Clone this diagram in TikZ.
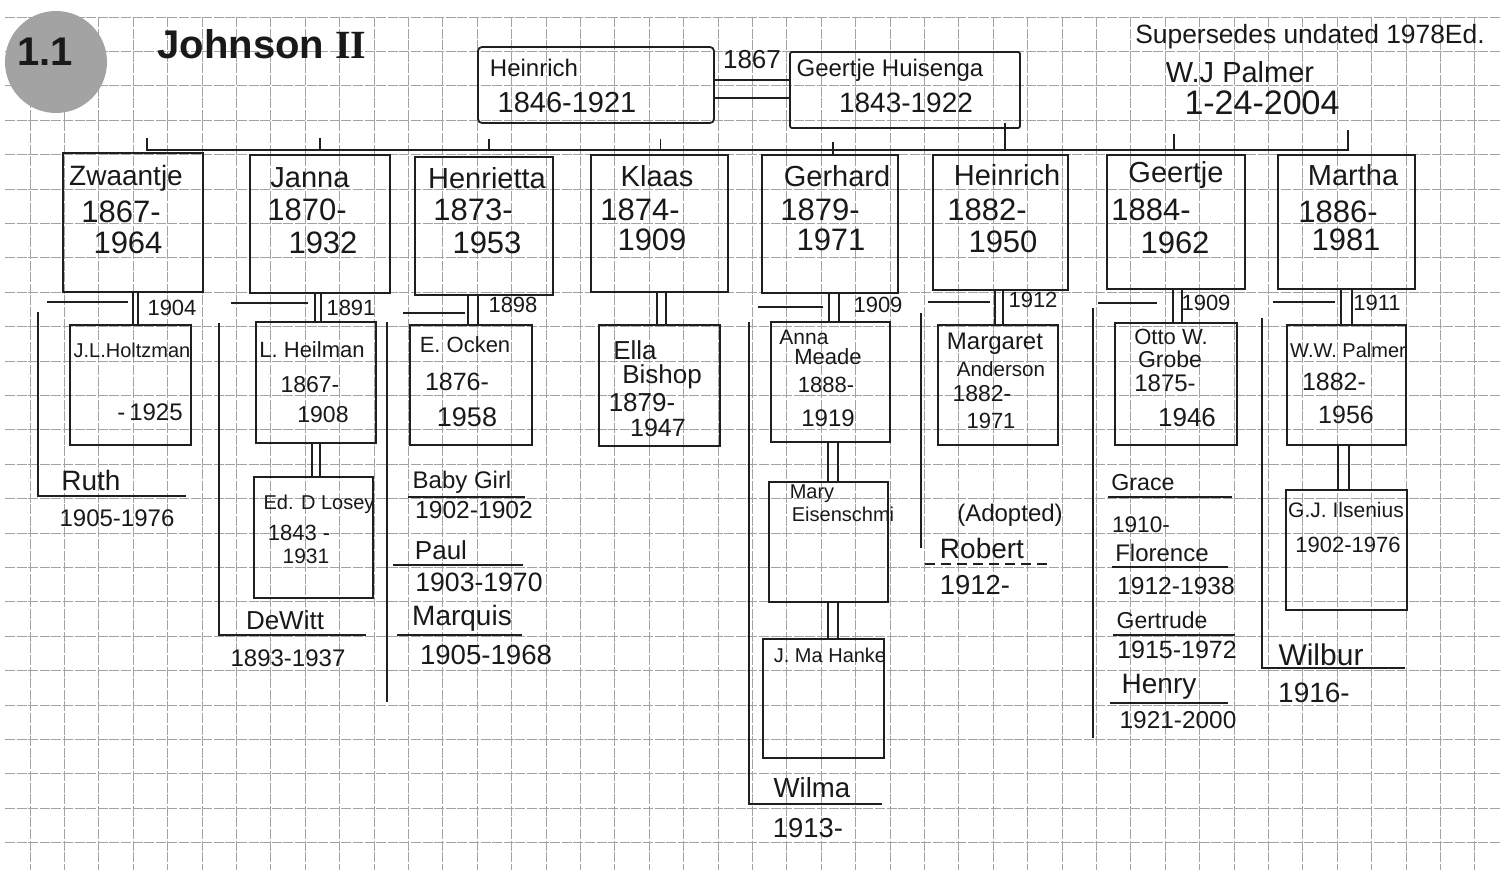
\documentclass[tikz,border=0pt]{standalone}
\usepackage{fontspec}
\setmainfont{Liberation Sans}
\newfontfamily\serifbf{Liberation Serif}
\usetikzlibrary{calc}
\newcommand{\boxat}[5]{\node[pbox, minimum width=#4*0.5pt, minimum height=#5*0.5pt] (#1) at (#2,#3) {};}
\newcommand{\txtat}[5]{\node[lbl, font=\fontsize{#4}{#4}\selectfont] (#1) at (#2,#3) {#5};}
\newcommand{\dblline}[4]{%
  \draw[ink] ($(#1.south)+(#3,0)$) coordinate (dA) -- (dA |- #2.north);
  \draw[ink] ($(#1.south)+(#4,0)$) coordinate (dB) -- (dB |- #2.north);}
\begin{document}
\begin{tikzpicture}[x=0.5pt,y=-0.5pt,
  grid/.style={draw=black!36, line width=0.45pt, dash pattern=on 5pt off 0.8pt},
  ink/.style={draw=black!88, line width=0.9pt},
  pbox/.style={ink, rectangle, inner sep=0},
  lbl/.style={inner sep=0, text=black!90}]
\useasboundingbox (0,0) rectangle (1500,870);
\fill[white] (0,0) rectangle (1500,870);
% graph paper
\foreach \i in {0,...,24} \draw[grid] (5,{17+34.4*\i}) -- (1500,{17+34.4*\i});
\foreach \i in {0,...,42} \draw[grid] ({30+34.4*\i},17) -- ({30+34.4*\i},870);

% header
\node[circle, fill=black!36, minimum size=51pt, inner sep=0] (badge) at (56,62) {};
\node[lbl, font=\fontsize{20}{20}\selectfont\bfseries] (num) at (45,52) {1.1};
\node[lbl, font=\fontsize{20}{20}\selectfont\bfseries] (title) at (262,44) {Johnson {\serifbf\bfseries II}};
\txtat{sup}{1310}{37}{13.2}{Supersedes undated 1978Ed.}
\txtat{auth}{1240}{72}{14.5}{W.J Palmer}
\txtat{date}{1262}{103}{17}{1-24-2004}

% parents
\node[pbox, rounded corners=2pt, minimum width=118pt, minimum height=38pt] (h0) at (596,85) {};
\node[pbox, rounded corners=1pt, minimum width=115pt, minimum height=38pt] (g0) at (905,90) {};
\txtat{h0n}{534}{68}{12}{Heinrich}
\txtat{h0y}{567}{103}{14.5}{1846-1921}
\txtat{g0n}{890}{70}{12}{Geertje Huisenga}
\txtat{g0y}{906}{103}{14}{1843-1922}
\txtat{m0}{752}{60}{13}{1867}
\draw[ink] ($(h0.east)+(0,-5)$) -- ($(g0.west)+(0,-10)$);
\draw[ink] ($(h0.east)+(0,13)$) -- ($(g0.west)+(0,8)$);

% children
\boxat{c1}{133}{222.5}{140}{139}
\boxat{c2}{320}{224}{140}{138}
\boxat{c3}{484}{226}{138}{138}
\boxat{c4}{659.5}{223.5}{137}{137}
\boxat{c5}{830}{224}{136}{138}
\boxat{c6}{1000.5}{222.5}{135}{135}
\boxat{c7}{1176}{222}{138}{134}
\boxat{c8}{1346.5}{222}{137}{134}

\txtat{c1n}{126}{178}{14}{Zwaantje}
\txtat{c1a}{121}{212}{15.5}{1867-}
\txtat{c1b}{128}{243}{15.5}{1964}
\txtat{c2n}{310}{178}{14.5}{Janna}
\txtat{c2a}{307}{210}{15.5}{1870-}
\txtat{c2b}{323}{243}{15.5}{1932}
\txtat{c3n}{487}{178}{14.5}{Henrietta}
\txtat{c3a}{473}{210}{15.5}{1873-}
\txtat{c3b}{487}{243}{15.5}{1953}
\txtat{c4n}{657}{176}{14.5}{Klaas}
\txtat{c4a}{640}{210}{15.5}{1874-}
\txtat{c4b}{652}{240}{15.5}{1909}
\txtat{c5n}{837}{176}{14.5}{Gerhard}
\txtat{c5a}{820}{210}{15.5}{1879-}
\txtat{c5b}{831}{240}{15.5}{1971}
\txtat{c6n}{1007}{175}{14.5}{Heinrich}
\txtat{c6a}{987}{210}{15.5}{1882-}
\txtat{c6b}{1003}{242}{15.5}{1950}
\txtat{c7n}{1176}{175}{14.5}{Geertje}
\txtat{c7a}{1151}{210}{15.5}{1884-}
\txtat{c7b}{1175}{243}{15.5}{1962}
\txtat{c8n}{1353}{175}{14.5}{Martha}
\txtat{c8a}{1338}{212}{15.5}{1886-}
\txtat{c8b}{1346}{240}{15.5}{1981}

% sibling bus
\coordinate (bus) at (0,150);
\coordinate (tk) at (0,138);
\coordinate (busL) at (147,150);
\coordinate (busR) at (1348,150);
\draw[ink] (busL |- tk) -- (busL) -- (busR) -- ($(busR)+(0,-20)$);
\draw[ink] (c2.north |- tk) -- (c2.north |- bus);
\draw[ink] ($(c3.north)+(5,0)$) coordinate (t3) ++(0,-17) -- (t3 |- bus);
\draw[ink] ($(c4.north)+(1,-15)$) -- ($(c4.north)+(1,-5)$);
\draw[ink] ($(c5.north)+(3,-12)$) -- ($(c5.north)+(3,2)$);
\draw[ink] ($(c7.north)+(-2,-20)$) -- ($(c7.north)+(-2,-5)$);
\draw[ink] ($(g0.south east)+(-16,-6)$) coordinate (pd) -- (pd |- bus);

% spouses
\boxat{s1}{130.5}{385}{121}{120}
\boxat{s2}{316}{382.5}{120}{121}
\boxat{s2b}{313.5}{537.5}{119}{121}
\boxat{s3}{471}{385}{122}{120}
\boxat{s4}{659.5}{385.5}{121}{121}
\boxat{s5}{830.5}{382}{119}{120}
\boxat{s5b}{828.5}{542}{119}{120}
\boxat{s5c}{823.5}{698.5}{121}{119}
\boxat{s6}{998}{385}{120}{120}
\boxat{s7}{1176}{384}{122}{122}
\boxat{s8}{1346.5}{385}{119}{120}
\boxat{s8b}{1346.5}{550}{121}{120}

\dblline{c1}{s1}{0}{5}
\dblline{c2}{s2}{-5}{1}
\dblline{s2}{s2b}{-4}{4}
\dblline{c3}{s3}{-16}{-6}
\dblline{c4}{s4}{-2.5}{6.5}
\dblline{c5}{s5}{-1}{9}
\dblline{s5}{s5b}{-2.5}{7.5}
\dblline{s5b}{s5c}{-0.5}{9.5}
\dblline{c6}{s6}{-5.5}{2.5}
\dblline{c7}{s7}{-3}{6}
\dblline{c8}{s8}{-5.5}{5.5}
\dblline{s8}{s8b}{-8.5}{2.5}

\txtat{y1}{172}{308}{11}{1904}
\txtat{y2}{351}{308}{11}{1891}
\txtat{y3}{513}{305}{11}{1898}
\txtat{y5}{878}{305}{11}{1909}
\txtat{y6}{1033}{300}{11}{1912}
\txtat{y7}{1206}{303}{11}{1909}
\txtat{y8}{1377}{303}{11}{1911}

\txtat{s1n}{132}{350}{10}{J.L.Holtzman}
\txtat{s1b}{150}{412}{12}{-\,1925}
\txtat{s2n}{312}{350}{11}{L. Heilman}
\txtat{s2a}{310}{385}{11.5}{1867-}
\txtat{s2c}{323}{415}{11.5}{1908}
\txtat{s2bn}{319}{504}{10}{Ed. D Losey}
\txtat{s2ba}{299}{533}{11}{1843 -}
\txtat{s2bb}{306}{556}{10.5}{1931}
\txtat{s3n}{465}{345}{11}{E. Ocken}
\txtat{s3a}{457}{382}{12.5}{1876-}
\txtat{s3b}{467}{417}{13.5}{1958}
\txtat{s4n}{635}{350}{13}{Ella}
\txtat{s4m}{662}{377}{13}{Bishop}
\txtat{s4a}{642}{403}{13}{1879-}
\txtat{s4b}{658}{428}{12.5}{1947}
\txtat{s5n}{804}{337}{10.5}{Anna}
\txtat{s5m}{828}{357}{11}{Meade}
\txtat{s5a}{826}{385}{11}{1888-}
\txtat{s5c1}{828}{418}{12}{1919}
\txtat{s5bn}{812}{494}{10}{Mary}
\txtat{s5bm}{843}{514}{10}{Eisenschmi}
\txtat{s5cn}{830}{655}{10}{J. Ma Hanke}
\txtat{s6n}{995}{344}{12}{Margaret}
\txtat{s6m}{1001}{369}{10.3}{Anderson}
\txtat{s6a}{982}{394}{11.5}{1882-}
\txtat{s6b}{991}{421}{11}{1971}
\txtat{s7n}{1171}{337}{11}{Otto W.}
\txtat{s7m}{1170}{359}{11.5}{Grobe}
\txtat{s7a}{1165}{383}{12}{1875-}
\txtat{s7b}{1187}{418}{13}{1946}
\txtat{s8n}{1348}{350}{10}{W.W. Palmer}
\txtat{s8a}{1334}{382}{12.5}{1882-}
\txtat{s8c}{1346}{415}{12.5}{1956}
\txtat{s8bn}{1346}{510}{10.5}{G.J. Ilsenius}
\txtat{s8ba}{1348}{545}{11}{1902-1976}

% lines of descent
\draw[ink] (47,302) -- (128,302);
\draw[ink] (231,303) -- (308,303);
\draw[ink] (403,313) -- (465,313);
\draw[ink] (758,307) -- (823,307);
\draw[ink] (928,302) -- (990,302);
\draw[ink] (1098,303) -- (1157,303);
\draw[ink] (1273,302) -- (1335,302);

% grandchildren
\txtat{g1n}{91}{480}{14}{Ruth}
\txtat{g1y}{117}{518}{12}{1905-1976}
\coordinate (v1) at (38,312);
\draw[ink] (v1) |- ($(g1n.south east)+(65,5)$);

\txtat{g2n}{285}{620}{13}{DeWitt}
\txtat{g2y}{288}{658}{12}{1893-1937}
\coordinate (v2) at (219,323);
\draw[ink] (v2) |- ($(g2n.south east)+(42,5)$);

\coordinate (v3) at (387,322);
\draw[ink] (v3) -- (387,702);
\txtat{g3n}{462}{482}{12}{Baby Girl}
\txtat{g3y}{474}{510}{12.3}{1902-1902}
\txtat{g4n}{441}{550}{13}{Paul}
\txtat{g4y}{479}{582}{13.3}{1903-1970}
\txtat{g5n}{462}{618}{14}{Marquis}
\txtat{g5y}{486}{655}{13.8}{1905-1968}
\draw[ink] (408,497) -- (525,497);
\draw[ink] (393,565) -- (523,565);
\draw[ink] (397,635) -- (522,635);

\txtat{g6n}{812}{788}{13.8}{Wilma}
\txtat{g6y}{808}{828}{13.7}{1913-}
\coordinate (v5) at (749,322);
\draw[ink] (v5) |- (882,804);

\txtat{g7a}{1010}{515}{12}{(Adopted)}
\txtat{g7n}{982}{548}{14}{Robert}
\txtat{g7y}{975}{585}{13.7}{1912-}
\coordinate (v6) at (921,313);
\draw[ink] (v6) -- (921,548);
\draw[ink, dash pattern=on 5pt off 3pt] (925,564) -- (1048,564);

\coordinate (v7) at (1093,308);
\draw[ink] (v7) -- (1093,738);
\txtat{g8n}{1143}{483}{11.6}{Grace}
\txtat{g8y}{1141}{525}{11.3}{1910-}
\txtat{g9n}{1162}{553}{12}{Florence}
\txtat{g9y}{1176}{586}{12.3}{1912-1938}
\txtat{g10n}{1162}{620}{11.5}{Gertrude}
\txtat{g10y}{1177}{650}{12.5}{1915-1972}
\txtat{g11n}{1159}{687}{14}{Henry}
\txtat{g11y}{1178}{720}{12.2}{1921-2000}
\draw[ink] (1108,497) -- (1232,497);
\draw[ink] (1112,567) -- (1228,567);
\draw[ink] (1113,635) -- (1235,635);
\draw[ink] (1110,703) -- (1228,703);

\txtat{g12n}{1321}{655}{15}{Wilbur}
\txtat{g12y}{1314}{693}{14}{1916-}
\coordinate (v8) at (1262,318);
\draw[ink] (v8) |- (1405,668);
\end{tikzpicture}
\end{document}
